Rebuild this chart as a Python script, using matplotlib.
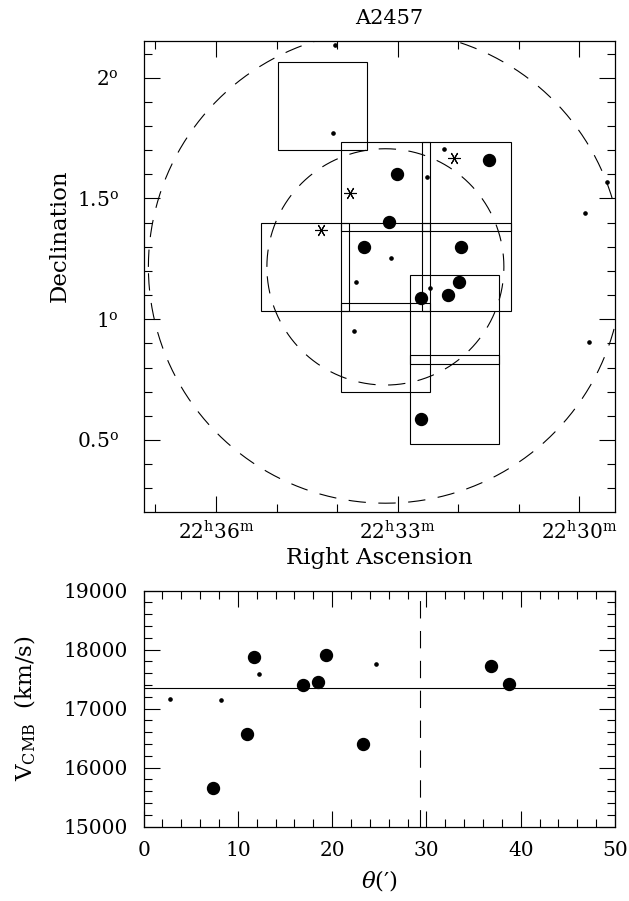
import numpy as np
import matplotlib
matplotlib.use("Agg")
import matplotlib.pyplot as plt
from matplotlib.patches import Rectangle

plt.rcParams['font.family'] = ['DejaVu Serif']
plt.rcParams['mathtext.fontset'] = 'dejavuserif'
plt.rcParams['lines.scale_dashes'] = False

# ---- top panel: sky positions (RA in minutes past 22h, Dec in degrees)
big_ra = [33.010, 31.497, 33.137, 33.555, 31.953, 31.981, 32.174, 32.614, 32.614]
big_dec = [1.6017, 1.6571, 1.4017, 1.3006, 1.3006, 1.1545, 1.1006, 1.0870, 0.5872]

small_ra = [34.034, 34.062, 32.240, 32.510, 29.542, 29.900, 33.104, 33.687,
            32.460, 33.727, 29.846]
small_dec = [2.1371, 1.7714, 1.7039, 1.5905, 1.5698, 1.4414, 1.2551, 1.1532,
             1.1308, 0.9516, 0.9072]

star_ra = [32.064, 33.793, 34.272]
star_dec = [1.6692, 1.5217, 1.3698]

# observed fields (centres), 22 arcmin on a side
field_ra = [34.240, 33.195, 31.860, 34.530, 33.195, 31.860, 33.195, 32.067, 32.067]
field_dec = [1.8826, 1.5493, 1.5493, 1.2166, 1.2166, 1.2166, 0.8832, 0.9992, 0.6665]
field_size = 22.0  # arcmin

centre_ra, centre_dec = 33.203, 1.2166
radius = 29.35  # arcmin

ra_ticks = [36, 33, 30]
ra_labels = [r"22$^{\rm h}$36$^{\rm m}$", r"22$^{\rm h}$33$^{\rm m}$",
             r"22$^{\rm h}$30$^{\rm m}$"]
dec_ticks = [0.5, 1.0, 1.5, 2.0]
dec_labels = [r"0.5$^{\rm o}$", r"1$^{\rm o}$", r"1.5$^{\rm o}$", r"2$^{\rm o}$"]

# ---- bottom panel: velocity vs. radius
theta_big = [7.36, 11.02, 11.70, 16.93, 18.55, 19.35, 23.22, 36.80, 38.71]
v_big = [15651, 16566, 17882, 17407, 17447, 17910, 16402, 17724, 17419]
theta_small = [2.77, 8.21, 12.25, 24.63]
v_small = [17164, 17142, 17588, 17758]
v_mean = 17346

fig = plt.figure(figsize=(6.29, 9.01), dpi=100)
ax = fig.add_axes([0.2289, 0.4314, 0.7494, 0.5228])
ax2 = fig.add_axes([0.2283, 0.0825, 0.7494, 0.2619])

lw = 0.8
dash = (12.5, 9)
cosd = np.cos(np.radians(centre_dec))

# fields
w = field_size / 60.0 * 4.0 / cosd
h = field_size / 60.0
for r, d in zip(field_ra, field_dec):
    ax.add_patch(Rectangle((r - w / 2, d - h / 2), w, h, fill=False,
                           lw=lw, ec='black'))

# circles
t = np.linspace(0, 2 * np.pi, 721)
for k in (1, 2):
    rd = k * radius / 60.0
    ax.plot(centre_ra + rd * 4.0 / cosd * np.cos(t), centre_dec + rd * np.sin(t),
            color='black', lw=lw, dashes=dash)

ax.plot(big_ra, big_dec, 'o', color='black', ms=8.6, mec='black')
ax.plot(small_ra, small_dec, 'o', color='black', ms=2.3)
ax.plot(star_ra, star_dec, ls='none', marker=(6, 2, 30), color='black',
        ms=9, mew=0.8)

ax.set_xlim(37.19, 29.405)
ax.set_ylim(0.2006, 2.1507)
ax.set_xticks(ra_ticks)
ax.set_xticklabels(ra_labels)
ax.set_xticks(np.arange(30, 38), minor=True)
ax.set_yticks(dec_ticks)
ax.set_yticklabels(dec_labels)
ax.set_yticks(np.arange(0.3, 2.15, 0.1), minor=True)
ax.tick_params(which='both', direction='in', top=True, right=True, width=0.8)
ax.tick_params(which='major', length=11.5, labelsize=14.5)
ax.tick_params(which='minor', length=5.5)
ax.tick_params(axis='x', which='major', pad=6)
ax.tick_params(axis='y', which='major', pad=18)
ax.set_xlabel("Right Ascension", fontsize=16.5, labelpad=2)
ax.set_ylabel("Declination", fontsize=16.5, va='center')
ax.yaxis.set_label_coords(-0.178, 0.587)
for s in ax.spines.values():
    s.set_linewidth(0.9)
fig.text(389 / 629, 1 - 18 / 901, "A2457", ha='center', va='center',
         fontsize=15)

# bottom panel
ax2.axhline(v_mean, color='black', lw=lw)
ax2.axvline(radius, color='black', lw=lw, dashes=(12.5, 9))
ax2.plot(theta_big, v_big, 'o', color='black', ms=8.6)
ax2.plot(theta_small, v_small, 'o', color='black', ms=2.3)
ax2.set_xlim(0, 50)
ax2.set_ylim(15000, 19000)
ax2.set_xticks(np.arange(0, 51, 10))
ax2.set_xticks(np.arange(0, 51, 2), minor=True)
ax2.set_yticks(np.arange(15000, 19001, 1000))
ax2.set_yticks(np.arange(15000, 19001, 200), minor=True)
ax2.tick_params(which='both', direction='in', top=True, right=True, width=0.8)
ax2.tick_params(which='major', length=11.5, labelsize=14.5)
ax2.tick_params(which='minor', length=5.5)
ax2.tick_params(axis='x', which='major', pad=10)
ax2.tick_params(axis='y', which='major', pad=11)
ax2.set_xlabel(r"$\theta$(′)", fontsize=16.5, labelpad=6)
ax2.set_ylabel(r"V$_{\rm CMB}$  (km/s)", fontsize=16.5, va='center')
ax2.yaxis.set_label_coords(-0.25, 0.5)
for s in ax2.spines.values():
    s.set_linewidth(0.9)

fig.savefig("out.png", dpi=100)
